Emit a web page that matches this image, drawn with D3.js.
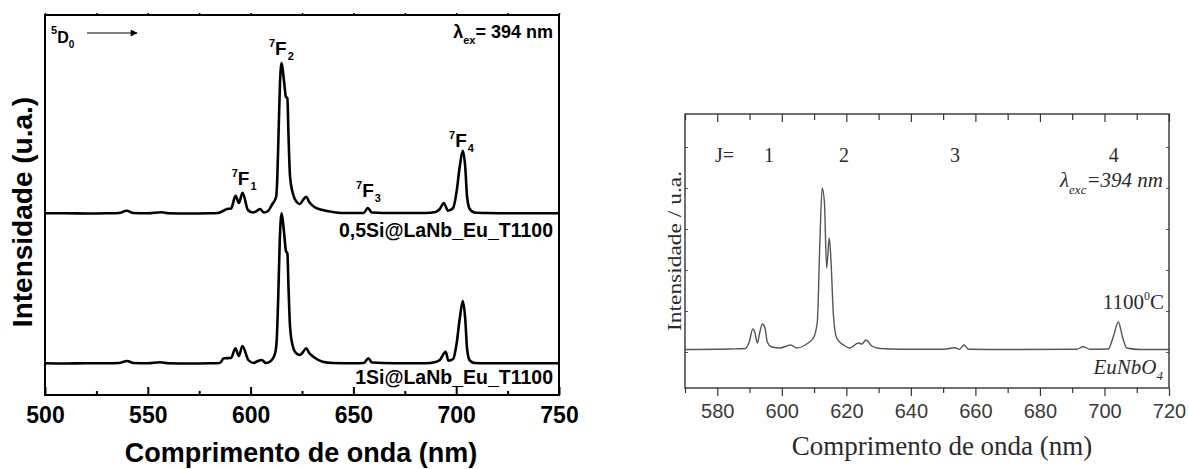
<!DOCTYPE html>
<html>
<head>
<meta charset="utf-8">
<title>Espectros de emissão Eu3+</title>
<style>
  body { margin: 0; background: #fff; }
  svg { display: block; }
  .left text { font-family: "Liberation Sans", Arial, sans-serif; font-weight: bold; fill: #000; }
  .right text { font-family: "Liberation Serif", "Times New Roman", serif; fill: #2b2b2b; }
  .right .x-axis text { font-family: "Liberation Sans", Arial, sans-serif; fill: #3a3a3a; }
  .domain { display: none; }
</style>
</head>
<body>
<svg width="1189" height="469"></svg>
<script src="https://d3js.org/d3.v7.min.js"></script>
<script>
// ---- data (wavelength nm, intensity a.u.) ----
const spectrumHalfSi = [
  [500,18.17],[510,18.17],[520,18.15],[530,18.17],[536,18.2],[539.7,18.43],[543,18.2],[550,18.17],
  [556.8,18.27],[560,18.17],[570,18.15],[580,18.17],[584,18.2],[586.6,18.4],[588.5,18.6],[590.5,18.65],
  [592.7,19.93],[594.3,19.2],[596.1,20.23],[598.7,18.5],[601,18.25],[603,18.4],[604.6,18.6],[606.5,18.25],
  [608.5,18.4],[610.3,19.0],[612.4,19.8],[613.0,21.8],[613.6,26.2],[614.3,31.2],[615.1,33.2],[616.2,31.5],
  [617.2,29.8],[617.9,29.7],[618.4,26.2],[619.2,21.8],[620.5,20.2],[622.4,19.3],[624,19.1],[625.5,19.5],
  [627,19.83],[628.5,19.3],[631,18.8],[635,18.5],[640,18.3],[645,18.2],[655,18.2],[657,18.7],[659,18.25],
  [670,18.2],[685,18.2],[690,18.3],[692,18.6],[694,19.2],[696,18.43],[698.5,18.7],[700.1,20.2],
  [701.7,22.8],[703.2,24.43],[704.4,22.8],[705.3,19.8],[706.6,18.6],[709,18.25],[715,18.2],[730,18.17],[750,18.17]
];
const spectrumOneSi = [
  [500,3.17],[510,3.15],[520,3.17],[530,3.17],[536,3.2],[540,3.4],[543,3.2],[550,3.17],[556,3.27],
  [560,3.17],[570,3.15],[580,3.17],[585,3.2],[587,3.67],[590.5,3.7],[592.6,4.67],[594.3,3.9],[596,4.9],
  [598.9,3.5],[601.5,3.2],[603,3.35],[605.4,3.5],[607.5,3.2],[609.5,3.35],[611.9,4.17],[612.7,5.5],
  [613.4,9.5],[614.2,15.5],[615.1,18.17],[616.2,16.4],[617.2,14.4],[617.9,14.17],[618.4,11.0],[619.2,6.8],
  [620.5,4.9],[621.6,4.33],[624,4.0],[625.5,4.3],[627,4.67],[628.5,4.2],[631,3.75],[635,3.33],[640,3.2],
  [650,3.17],[655,3.2],[657.3,3.67],[659,3.25],[670,3.17],[685,3.17],[690,3.3],[692,3.5],[694.9,4.33],
  [696.2,3.43],[698.5,3.6],[700.1,5.0],[701.7,7.6],[703.2,9.4],[704.4,7.6],[705.3,4.6],[706.6,3.45],
  [709,3.2],[715,3.17],[730,3.17],[750,3.17]
];
const spectrumEuNbO4 = [
  [570,3.85],[580,3.87],[584,3.9],[588.6,3.95],[589.9,4.6],[591.0,5.9],[591.7,5.5],[592.4,4.5],
  [593.2,5.6],[594.0,6.4],[594.8,6.0],[595.5,4.6],[596.9,4.1],[599.4,4.0],[602.8,4.3],[604.6,4.0],
  [607.7,4.4],[609.8,5.0],[611.0,6.6],[611.8,14.6],[612.5,20.0],[613.2,18.6],[613.9,12.0],[614.7,15.0],
  [615.2,13.0],[616.0,7.3],[617.0,5.0],[619.1,4.3],[621.1,4.0],[623.7,4.5],[624.8,4.4],[626.1,4.8],
  [627.9,4.2],[630.4,3.95],[636.6,3.87],[650.1,3.87],[653.7,4.03],[655.0,3.87],[656.5,4.3],[657.8,3.87],
  [667.6,3.85],[691.4,3.87],[693.4,4.13],[695.5,3.87],[701.2,3.9],[702.7,5.1],[704.3,6.6],[705.6,5.1],
  [706.9,4.0],[711.0,3.85],[720,3.85]
];

const leftMajorTicks = [500, 550, 600, 650, 700, 750];
const leftMinorTicks = [525, 575, 625, 675, 725];
const rightMajorTicks = [580, 600, 620, 640, 660, 680, 700, 720];
const rightMinorTicks = [570, 590, 610, 630, 650, 670, 690, 710];
const rightYTicks = [3.6, 7.7, 11.8, 15.9, 20.0, 24.1];

// transition labels (J of 5D0 -> 7FJ), placed in data coords
const leftTransitions = [
  { j: "1", nm: 590.8, at: 21.0 },
  { j: "2", nm: 608.9, at: 34.0 },
  { j: "3", nm: 651.3, at: 19.8 },
  { j: "4", nm: 696.5, at: 24.8 }
];
const rightJ = [
  { j: "1", nm: 596.0 },
  { j: "2", nm: 619.3 },
  { j: "3", nm: 653.7 },
  { j: "4", nm: 702.9 }
];

let svg = d3.select("svg");

// ================= left panel =================
let L = { left: 45, right: 559, top: 15, bottom: 395 };
let xL = d3.scaleLinear().domain([500, 750]).range([L.left, L.right]);
let yL = d3.scaleLinear().domain([0, 38]).range([L.bottom, L.top]);

let gl = svg.append("g").attr("class", "left");

let lineL = d3.line()
  .x(d => xL(d[0]))
  .y(d => yL(d[1]))
  .curve(d3.curveMonotoneX);

[spectrumHalfSi, spectrumOneSi].forEach(s => {
  gl.append("path")
    .attr("d", lineL(s))
    .attr("fill", "none")
    .attr("stroke", "#000")
    .attr("stroke-width", 2.6)
    .attr("stroke-linejoin", "round");
});

// bottom axis: ticks pointing in
let bottomL = gl.append("g")
  .attr("class", "x-axis")
  .attr("transform", `translate(0,${L.bottom})`)
  .call(d3.axisBottom(xL).tickValues(leftMajorTicks).tickSize(-8).tickPadding(12).tickFormat(d3.format("d")));
bottomL.selectAll("text").attr("font-size", 23).attr("fill", "#000");
bottomL.selectAll("line").attr("stroke-width", 2);

gl.append("g")
  .attr("transform", `translate(0,${L.bottom})`)
  .call(d3.axisBottom(xL).tickValues(leftMinorTicks).tickSize(-4).tickFormat(""))
  .selectAll("line").attr("stroke-width", 2);

// tiny outward ticks on top
gl.append("g")
  .attr("transform", `translate(0,${L.top})`)
  .call(d3.axisTop(xL).tickValues(leftMajorTicks.concat(leftMinorTicks)).tickSize(2).tickFormat(""))
  .selectAll("line").attr("stroke-width", 1.5);

gl.append("rect")
  .attr("x", L.left).attr("y", L.top)
  .attr("width", L.right - L.left).attr("height", L.bottom - L.top)
  .attr("fill", "none").attr("stroke", "#000").attr("stroke-width", 2);

// axis titles
gl.append("text")
  .attr("transform", "translate(32,212) rotate(-90)")
  .attr("text-anchor", "middle")
  .attr("font-size", 28)
  .text("Intensidade (u.a.)");

gl.append("text")
  .attr("x", 301).attr("y", 462)
  .attr("text-anchor", "middle")
  .attr("font-size", 27)
  .text("Comprimento de onda (nm)");

// series labels
gl.append("text")
  .attr("x", 553).attr("y", 237)
  .attr("text-anchor", "end")
  .attr("font-size", 19.5)
  .text("0,5Si@LaNb_Eu_T1100");

gl.append("text")
  .attr("x", 553).attr("y", 384)
  .attr("text-anchor", "end")
  .attr("font-size", 19.5)
  .text("1Si@LaNb_Eu_T1100");

// 5D0 ->
let d0 = gl.append("text").attr("x", 51).attr("y", 43);
d0.append("tspan").attr("font-size", 11).attr("dy", -9).text("5");
d0.append("tspan").attr("font-size", 16).attr("dy", 9).text("D");
d0.append("tspan").attr("font-size", 10).attr("dy", 5).text("0");

svg.append("defs").append("marker")
  .attr("id", "arrow")
  .attr("viewBox", "0 0 10 10")
  .attr("refX", 9).attr("refY", 5)
  .attr("markerWidth", 9).attr("markerHeight", 7)
  .attr("markerUnits", "userSpaceOnUse")
  .attr("orient", "auto")
  .append("path").attr("d", "M0,0 L10,5 L0,10 z").attr("fill", "#000");

gl.append("line")
  .attr("x1", 87).attr("x2", 137)
  .attr("y1", 33).attr("y2", 33)
  .attr("stroke", "#000").attr("stroke-width", 1.2)
  .attr("marker-end", "url(#arrow)");

// lambda_ex
let lex = gl.append("text").attr("x", 553).attr("y", 38).attr("text-anchor", "end");
lex.append("tspan").attr("font-size", 18).text("λ");
lex.append("tspan").attr("font-size", 11).attr("dy", 6).text("ex");
lex.append("tspan").attr("font-size", 18).attr("dy", -6).text("= 394 nm");

// 7FJ labels
leftTransitions.forEach(t => {
  let lab = gl.append("text").attr("x", xL(t.nm)).attr("y", yL(t.at));
  lab.append("tspan").attr("font-size", 11).attr("dy", -8).text("7");
  lab.append("tspan").attr("font-size", 19).attr("dy", 8).text("F");
  lab.append("tspan").attr("font-size", 11).attr("dy", 5).attr("dx", 1).text(t.j);
});

// ================= right panel =================
let R = { left: 685, right: 1169, top: 114, bottom: 388 };
let xR = d3.scaleLinear().domain([570, 720]).range([R.left, R.right]);
let yR = d3.scaleLinear().domain([0, 27.4]).range([R.bottom, R.top]);

let gr = svg.append("g").attr("class", "right");

let lineR = d3.line()
  .x(d => xR(d[0]))
  .y(d => yR(d[1]))
  .curve(d3.curveMonotoneX);

gr.append("path")
  .attr("d", lineR(spectrumEuNbO4))
  .attr("fill", "none")
  .attr("stroke", "#555")
  .attr("stroke-width", 1.4);

let bottomR = gr.append("g")
  .attr("class", "x-axis")
  .attr("transform", `translate(0,${R.bottom})`)
  .call(d3.axisBottom(xR).tickValues(rightMajorTicks).tickSize(8).tickPadding(8).tickFormat(d3.format("d")));
bottomR.selectAll("text").attr("font-size", 20);
bottomR.selectAll("line").attr("stroke", "#333").attr("stroke-width", 1.2);

gr.append("g")
  .attr("transform", `translate(0,${R.bottom})`)
  .call(d3.axisBottom(xR).tickValues(rightMinorTicks).tickSize(5).tickFormat(""))
  .selectAll("line").attr("stroke", "#333").attr("stroke-width", 1.2);

gr.append("g")
  .attr("transform", `translate(0,${R.top})`)
  .call(d3.axisTop(xR).tickValues(rightMajorTicks).tickSize(-8).tickFormat(""))
  .selectAll("line").attr("stroke", "#333").attr("stroke-width", 1.2);

gr.append("g")
  .attr("transform", `translate(0,${R.top})`)
  .call(d3.axisTop(xR).tickValues(rightMinorTicks).tickSize(-6).tickFormat(""))
  .selectAll("line").attr("stroke", "#333").attr("stroke-width", 1.2);

gr.append("g")
  .attr("transform", `translate(${R.left},0)`)
  .call(d3.axisLeft(yR).tickValues(rightYTicks).tickSize(-3).tickFormat(""))
  .selectAll("line").attr("stroke", "#555").attr("stroke-width", 1);

gr.append("g")
  .attr("transform", `translate(${R.right},0)`)
  .call(d3.axisRight(yR).tickValues(rightYTicks).tickSize(-3).tickFormat(""))
  .selectAll("line").attr("stroke", "#555").attr("stroke-width", 1);

gr.append("rect")
  .attr("x", R.left).attr("y", R.top)
  .attr("width", R.right - R.left).attr("height", R.bottom - R.top)
  .attr("fill", "none").attr("stroke", "#333").attr("stroke-width", 1.4);

gr.append("text")
  .attr("transform", "translate(681,251) rotate(-90)")
  .attr("text-anchor", "middle")
  .attr("font-size", 19)
  .attr("textLength", 160)
  .attr("lengthAdjust", "spacingAndGlyphs")
  .text("Intensidade / u.a.");

gr.append("text")
  .attr("x", 942).attr("y", 455)
  .attr("text-anchor", "middle")
  .attr("font-size", 27)
  .text("Comprimento de onda (nm)");

// J= 1 2 3 4
gr.append("text")
  .attr("x", xR(579.3)).attr("y", yR(22.6))
  .attr("font-size", 20)
  .text("J=");
rightJ.forEach(t => {
  gr.append("text")
    .attr("x", xR(t.nm)).attr("y", yR(22.6))
    .attr("text-anchor", "middle")
    .attr("font-size", 20)
    .text(t.j);
});

let lexc = gr.append("text")
  .attr("x", 1163).attr("y", 187)
  .attr("text-anchor", "end")
  .attr("font-style", "italic");
lexc.append("tspan").attr("font-size", 21).text("λ");
lexc.append("tspan").attr("font-size", 13).attr("dy", 7).text("exc");
lexc.append("tspan").attr("font-size", 21).attr("dy", -7).text("=394 nm");

let temp = gr.append("text")
  .attr("x", 1164).attr("y", 309)
  .attr("text-anchor", "end");
temp.append("tspan").attr("font-size", 21).text("1100");
temp.append("tspan").attr("font-size", 12).attr("dy", -9).text("0");
temp.append("tspan").attr("font-size", 21).attr("dy", 9).text("C");

let eu = gr.append("text")
  .attr("x", 1163).attr("y", 374)
  .attr("text-anchor", "end")
  .attr("font-style", "italic");
eu.append("tspan").attr("font-size", 21).text("EuNbO");
eu.append("tspan").attr("font-size", 13).attr("dy", 6).text("4");
</script>
</body>
</html>
